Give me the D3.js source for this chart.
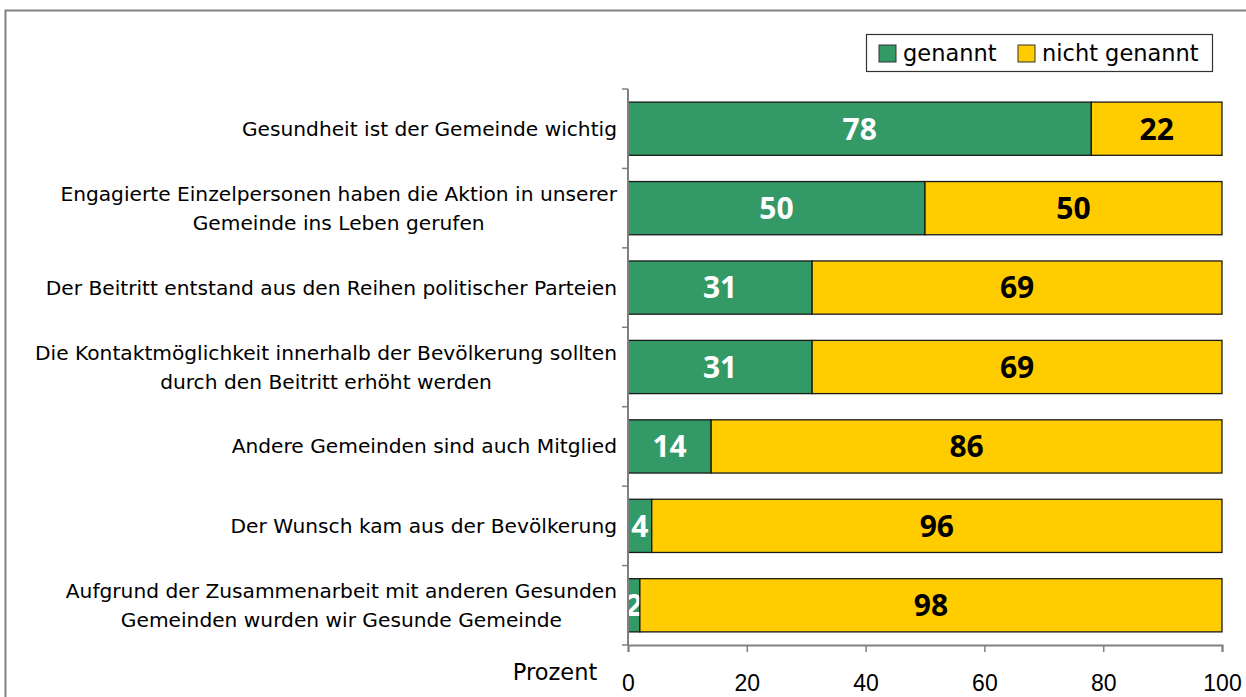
<!DOCTYPE html>
<html>
<head>
<meta charset="utf-8">
<script src="https://cdn.jsdelivr.net/npm/d3@7"></script>
<style>
  body { margin: 0; background: #fff; }
  text { font-family: "DejaVu Sans", sans-serif; }
</style>
</head>
<body>
<script>
// categories, top to bottom
const categories = [
  ['Gesundheit ist der Gemeinde wichtig'],
  ['Engagierte Einzelpersonen haben die Aktion in unserer', 'Gemeinde ins Leben gerufen'],
  ['Der Beitritt entstand aus den Reihen politischer Parteien'],
  ['Die Kontaktmöglichkeit innerhalb der Bevölkerung sollten', 'durch den Beitritt erhöht werden'],
  ['Andere Gemeinden sind auch Mitglied'],
  ['Der Wunsch kam aus der Bevölkerung'],
  ['Aufgrund der Zusammenarbeit mit anderen Gesunden', 'Gemeinden wurden wir Gesunde Gemeinde']
]
const genannt = [78, 50, 31, 31, 14, 4, 2]
const nichtGenannt = [22, 50, 69, 69, 86, 96, 98]
const seriesNames = ['genannt', 'nicht genannt']
const colors = ['#339966', '#FFCC00']
const xTicks = [0, 20, 40, 60, 80, 100]

let w = 1246
let h = 697
let mLeft = 628, mRight = 1222, mTop = 89, mBottom = 645

let svg = d3.select('body').append('svg').attr('width', w).attr('height', h)

// outer frame (runs off the right and bottom edges)
svg.append('rect')
  .attr('x', 5.5).attr('y', 10.5)
  .attr('width', w + 20).attr('height', h + 20)
  .attr('fill', 'none').attr('stroke', '#808080').attr('stroke-width', 2)

let x = d3.scaleLinear().domain([0, 100]).range([mLeft, mRight])
let y = d3.scaleBand().domain(d3.range(categories.length)).range([mTop, mBottom]).paddingInner(0.33).paddingOuter(0.165)

let rows = categories.map((c, i) => ({ i: i, vals: [genannt[i], nichtGenannt[i]] }))

// bars
rows.forEach(r => {
  let x0 = 0
  r.vals.forEach((v, k) => {
    svg.append('rect')
      .attr('x', x(x0)).attr('y', y(r.i))
      .attr('width', x(x0 + v) - x(x0)).attr('height', y.bandwidth())
      .attr('fill', colors[k]).attr('stroke', '#1a1a1a').attr('stroke-width', 1.3)
    svg.append('text')
      .attr('x', x(x0 + v / 2)).attr('y', y(r.i) + y.bandwidth() / 2)
      .attr('dy', '0.36em')
      .attr('text-anchor', 'middle')
      .attr('font-size', '30px').attr('font-weight', 'bold')
      .style('font-family', '"Open Sans", sans-serif')
      .attr('fill', k == 0 ? '#fff' : '#000')
      .text(v)
    x0 += v
  })
})

// y axis: line with ticks between categories
svg.append('line')
  .attr('x1', mLeft).attr('x2', mLeft).attr('y1', mTop).attr('y2', mBottom)
  .attr('stroke', '#808080').attr('stroke-width', 2)
d3.range(categories.length + 1).forEach(i => {
  let yy = mTop + i * y.step()
  svg.append('line').attr('x1', mLeft - 6).attr('x2', mLeft).attr('y1', yy).attr('y2', yy)
    .attr('stroke', '#808080').attr('stroke-width', 1.5)
})

// x axis
let xAxis = svg.append('g')
  .attr('transform', `translate(0,${mBottom})`)
  .call(d3.axisBottom(x).tickValues(xTicks).tickSize(7).tickPadding(23))
xAxis.select('.domain').attr('stroke', '#808080').attr('stroke-width', 2)
xAxis.selectAll('.tick line').attr('stroke', '#808080').attr('stroke-width', 1.5)
xAxis.selectAll('.tick text').attr('font-size', '23px').attr('fill', '#000')
  .style('font-family', '"Liberation Sans", Arial, sans-serif')

svg.append('text').attr('x', 555).attr('y', 680).attr('text-anchor', 'middle')
  .attr('font-size', '22.5px').text('Prozent')

// category labels: block right-aligned, lines centred inside the block
categories.forEach((lines, i) => {
  let g = svg.append('g')
  let cy = y(i) + y.bandwidth() / 2
  let lh = 29
  let ts = lines.map((l, j) => g.append('text')
    .attr('y', cy + (j - (lines.length - 1) / 2) * lh)
    .attr('dy', '0.35em')
    .attr('font-size', '20.2px')
    .attr('text-anchor', 'middle')
    .text(l))
  let maxW = d3.max(ts, t => t.node().getComputedTextLength())
  ts.forEach(t => t.attr('x', 617 - maxW / 2))
})

// legend
let lg = svg.append('g')
lg.append('rect').attr('x', 866.5).attr('y', 34.5).attr('width', 346).attr('height', 37)
  .attr('fill', '#fff').attr('stroke', '#333').attr('stroke-width', 1.2)
let lx = [879, 1018]
seriesNames.forEach((s, k) => {
  lg.append('rect').attr('x', lx[k]).attr('y', 45).attr('width', 17).attr('height', 17)
    .attr('fill', colors[k]).attr('stroke', '#333').attr('stroke-width', 1)
  lg.append('text').attr('x', lx[k] + 24).attr('y', 53).attr('dy', '0.35em')
    .attr('font-size', '22.5px').text(s)
})
</script>
</body>
</html>
